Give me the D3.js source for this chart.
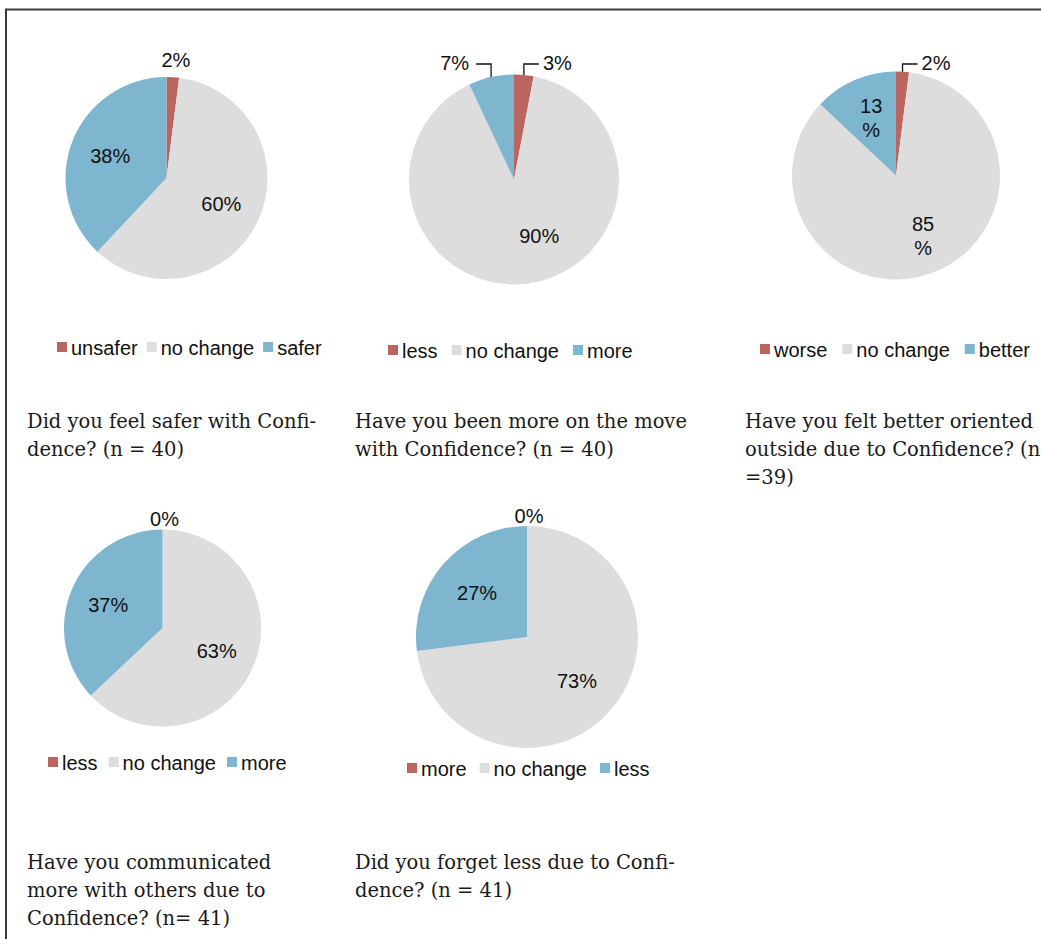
<!DOCTYPE html>
<html>
<head>
<meta charset="utf-8">
<script src="https://cdn.jsdelivr.net/npm/d3@7"></script>
<style>
  body { margin: 0; background: #fff; }
  svg { display: block; }
  .lbl, .leg { font-family: 'Liberation Sans', Arial, sans-serif; font-size: 20px; fill: #111; }
  .cap { font-family: 'DejaVu Serif', serif; font-size: 19.5px; fill: #1a1a1a; }
</style>
</head>
<body>
<svg width="1041" height="939"></svg>
<script>
// survey answers, percent per category (order: first, no change, last)
const pieValues = [
  [2, 60, 38],
  [3, 90, 7],
  [2, 85, 13],
  [0, 63, 37],
  [0, 73, 27]
]
const legendLabels = [
  ['unsafer', 'no change', 'safer'],
  ['less', 'no change', 'more'],
  ['worse', 'no change', 'better'],
  ['less', 'no change', 'more'],
  ['more', 'no change', 'less']
]
const captions = [
  ['Did you feel safer with Confi-', 'dence? (n = 40)'],
  ['Have you been more on the move', 'with Confidence? (n = 40)'],
  ['Have you felt better oriented', 'outside due to Confidence? (n', '=39)'],
  ['Have you communicated', 'more with others due to', 'Confidence? (n= 41)'],
  ['Did you forget less due to Confi-', 'dence? (n = 41)']
]
const colors = ['#bb6560', '#dddddd', '#7db6ce']

// placement of each small chart
var layout = [
  {cx: 166.5, cy: 178, r: 101, legX: 57, legY: 347, gap: 9, capX: 27, capY: 428, modes: ['out', 'in', 'in'], outOff: 17},
  {cx: 514, cy: 179.5, r: 105, legX: 388, legY: 350, gap: 14, capX: 355, capY: 428, modes: ['lead', 'in', 'lead'], leadUp: 10.5, mid: [156, 0.59]},
  {cx: 896, cy: 175.5, r: 104, legX: 760, legY: 349, gap: 15, capX: 745, capY: 428, modes: ['lead', 'in', 'in'], leadUp: 7.5, mid: [156, 0.64], wrap: true},
  {cx: 162.5, cy: 628, r: 98.5, legX: 48, legY: 762, gap: 11, capX: 27, capY: 869, modes: ['out', 'in', 'in'], outOff: 11},
  {cx: 527, cy: 637, r: 111, legX: 407, legY: 768, gap: 13, capX: 355, capY: 869, modes: ['out', 'in', 'in'], outOff: 10}
]

var svg = d3.select('svg')

// frame (only top and left edges are visible)
svg.append('path')
    .attr('d', 'M6,939V9.5H1041')
    .attr('fill', 'none')
    .attr('stroke', '#3a3a3a')
    .attr('stroke-width', 2)

var pie = d3.pie().sort(null).value(d => d)

layout.forEach(function (L, i) {
  var g = svg.append('g').attr('transform', 'translate(' + L.cx + ',' + L.cy + ')')
  var arc = d3.arc().innerRadius(0).outerRadius(L.r)
  var arcs = pie(pieValues[i])

  g.selectAll('path.slice')
    .data(arcs)
    .enter().append('path')
      .attr('class', 'slice')
      .attr('fill', (d, j) => colors[j])
      .attr('d', arc)

  arcs.forEach(function (d, j) {
    var mode = L.modes[j]
    var a = (d.startAngle + d.endAngle) / 2
    var txt = d.value + '%'
    if (mode === 'in') {
      var rr = 0.6 * L.r
      if (j === 1 && L.mid) { a = L.mid[0] * Math.PI / 180; rr = L.mid[1] * L.r }
      var x = Math.sin(a) * rr, y = -Math.cos(a) * rr
      var t = g.append('text').attr('class', 'lbl').attr('text-anchor', 'middle')
      if (L.wrap) {
        t.append('tspan').attr('x', x).attr('y', y - 12).attr('dy', '0.35em').text(d.value)
        t.append('tspan').attr('x', x).attr('y', y + 12).attr('dy', '0.35em').text('%')
      } else {
        t.attr('x', x).attr('y', y).attr('dy', '0.35em').text(txt)
      }
    } else if (mode === 'out') {
      var ro = L.r + L.outOff
      g.append('text').attr('class', 'lbl').attr('text-anchor', 'middle')
        .attr('x', Math.sin(a) * ro + 2).attr('y', -Math.cos(a) * ro)
        .attr('dy', '0.35em').text(txt)
    } else {
      // small slice: leader line up to an elbow, then sideways
      var ex = Math.sin(a) * L.r, ey = -Math.cos(a) * L.r
      var side = a > Math.PI ? -1 : 1
      var ky = -L.r - L.leadUp
      var kx = ex + side * 15
      g.append('path')
        .attr('d', 'M' + ex + ',' + ey + 'L' + ex + ',' + ky + 'L' + kx + ',' + ky)
        .attr('fill', 'none').attr('stroke', '#111').attr('stroke-width', 1.3)
      g.append('text').attr('class', 'lbl')
        .attr('text-anchor', side < 0 ? 'end' : 'start')
        .attr('x', kx + side * (side < 0 ? 7 : 4)).attr('y', ky)
        .attr('dy', '0.3em').text(txt)
    }
  })

  // legend row
  var leg = svg.append('g').attr('transform', 'translate(' + L.legX + ',' + L.legY + ')')
  var xpos = 0
  legendLabels[i].forEach(function (name, j) {
    leg.append('rect')
      .attr('x', xpos).attr('y', -5)
      .attr('width', 10).attr('height', 10)
      .attr('fill', colors[j])
    var t = leg.append('text').attr('class', 'leg')
      .attr('x', xpos + 14).attr('y', 8).text(name)
    xpos += 14 + t.node().getComputedTextLength() + L.gap
  })

  // question text
  var cap = svg.append('text').attr('class', 'cap')
  captions[i].forEach(function (line, k) {
    cap.append('tspan').attr('x', L.capX).attr('y', L.capY + k * 28).text(line)
  })
})
</script>
</body>
</html>
